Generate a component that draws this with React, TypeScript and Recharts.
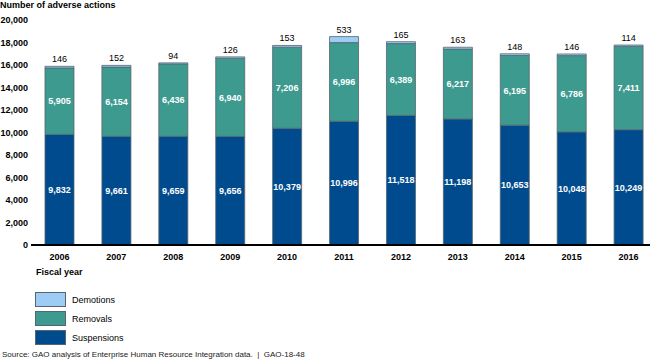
import React from "react";
import { BarChart, Bar, XAxis, YAxis, LabelList } from "recharts";

const years = ["2006", "2007", "2008", "2009", "2010", "2011", "2012", "2013", "2014", "2015", "2016"];
const suspensions = [9832, 9661, 9659, 9656, 10379, 10996, 11518, 11198, 10653, 10048, 10249];
const removals = [5905, 6154, 6436, 6940, 7206, 6996, 6389, 6217, 6195, 6786, 7411];
const demotions = [146, 152, 94, 126, 153, 533, 165, 163, 148, 146, 114];
const yTicks = [0, 2000, 4000, 6000, 8000, 10000, 12000, 14000, 16000, 18000, 20000];

const data = years.map((y, i) => ({
  year: y,
  Suspensions: suspensions[i],
  Removals: removals[i],
  Demotions: demotions[i],
}));

const C_SUS = "#004b8d";
const C_REM = "#3d9a8f";
const C_DEM = "#9dcdf5";
const STROKE = "#56656f";
const FONT = "'Liberation Sans', Arial, sans-serif";

const fmt = (v: number) => v.toLocaleString("en-US");

const legendItems = [
  { name: "Demotions", color: C_DEM },
  { name: "Removals", color: C_REM },
  { name: "Suspensions", color: C_SUS },
];

export default function App() {
  return (
    <div style={{ position: "absolute", left: 0, top: 0, width: 650, height: 363, overflow: "hidden", background: "#fff", fontFamily: FONT }}>
      <div style={{ position: "absolute", left: 0, top: 0, fontSize: 9, fontWeight: "bold", color: "#000", lineHeight: "11px" }}>
        Number of adverse actions
      </div>
      <BarChart
        width={660}
        height={363}
        data={data}
        margin={{ top: 20, right: 3, bottom: 88, left: 0 }}
        barCategoryGap="24.6%"
      >
        <YAxis
          width={31}
          domain={[0, 20000]}
          ticks={yTicks}
          interval={0}
          tickFormatter={fmt}
          axisLine={false}
          tickLine={false}
          tickSize={0}
          tickMargin={3}
          tick={{ fontSize: 9, fontWeight: "bold", fill: "#000", fontFamily: FONT }}
        />
        <XAxis
          dataKey="year"
          height={30}
          interval={0}
          axisLine={{ stroke: "#000", strokeWidth: 2 }}
          tickLine={false}
          tickSize={0}
          tickMargin={9}
          tick={{ fontSize: 9, fontWeight: "bold", fill: "#000", fontFamily: FONT }}
        />
        <Bar dataKey="Suspensions" stackId="a" fill={C_SUS} stroke={STROKE} strokeWidth={0.8} isAnimationActive={false}>
          <LabelList dataKey="Suspensions" position="center" formatter={(v: any) => fmt(v)} style={{ fill: "#fff", fontSize: 9, fontWeight: "bold", fontFamily: FONT }} />
        </Bar>
        <Bar dataKey="Removals" stackId="a" fill={C_REM} stroke={STROKE} strokeWidth={0.8} isAnimationActive={false}>
          <LabelList dataKey="Removals" position="center" formatter={(v: any) => fmt(v)} style={{ fill: "#fff", fontSize: 9, fontWeight: "bold", fontFamily: FONT }} />
        </Bar>
        <Bar dataKey="Demotions" stackId="a" fill={C_DEM} stroke={STROKE} strokeWidth={0.8} isAnimationActive={false}>
          <LabelList dataKey="Demotions" position="top" offset={4} formatter={(v: any) => fmt(v)} style={{ fill: "#000", fontSize: 9, fontFamily: FONT }} />
        </Bar>
      </BarChart>
      <div style={{ position: "absolute", left: 36, top: 267, fontSize: 9, fontWeight: "bold", color: "#000", lineHeight: "11px" }}>
        Fiscal year
      </div>
      {legendItems.map((it, i) => (
        <div key={it.name} style={{ position: "absolute", left: 35, top: 292 + i * 19, height: 15, display: "flex", alignItems: "center" }}>
          <div style={{ width: 29, height: 13, background: it.color, border: `1px solid ${STROKE}` }} />
          <div style={{ marginLeft: 6, fontSize: 9, color: "#000" }}>{it.name}</div>
        </div>
      ))}
      <div style={{ position: "absolute", left: 2, top: 350, fontSize: 8, color: "#222", lineHeight: "10px", whiteSpace: "pre" }}>
        {"Source: GAO analysis of Enterprise Human Resource Integration data.  |  GAO-18-48"}
      </div>
    </div>
  );
}
